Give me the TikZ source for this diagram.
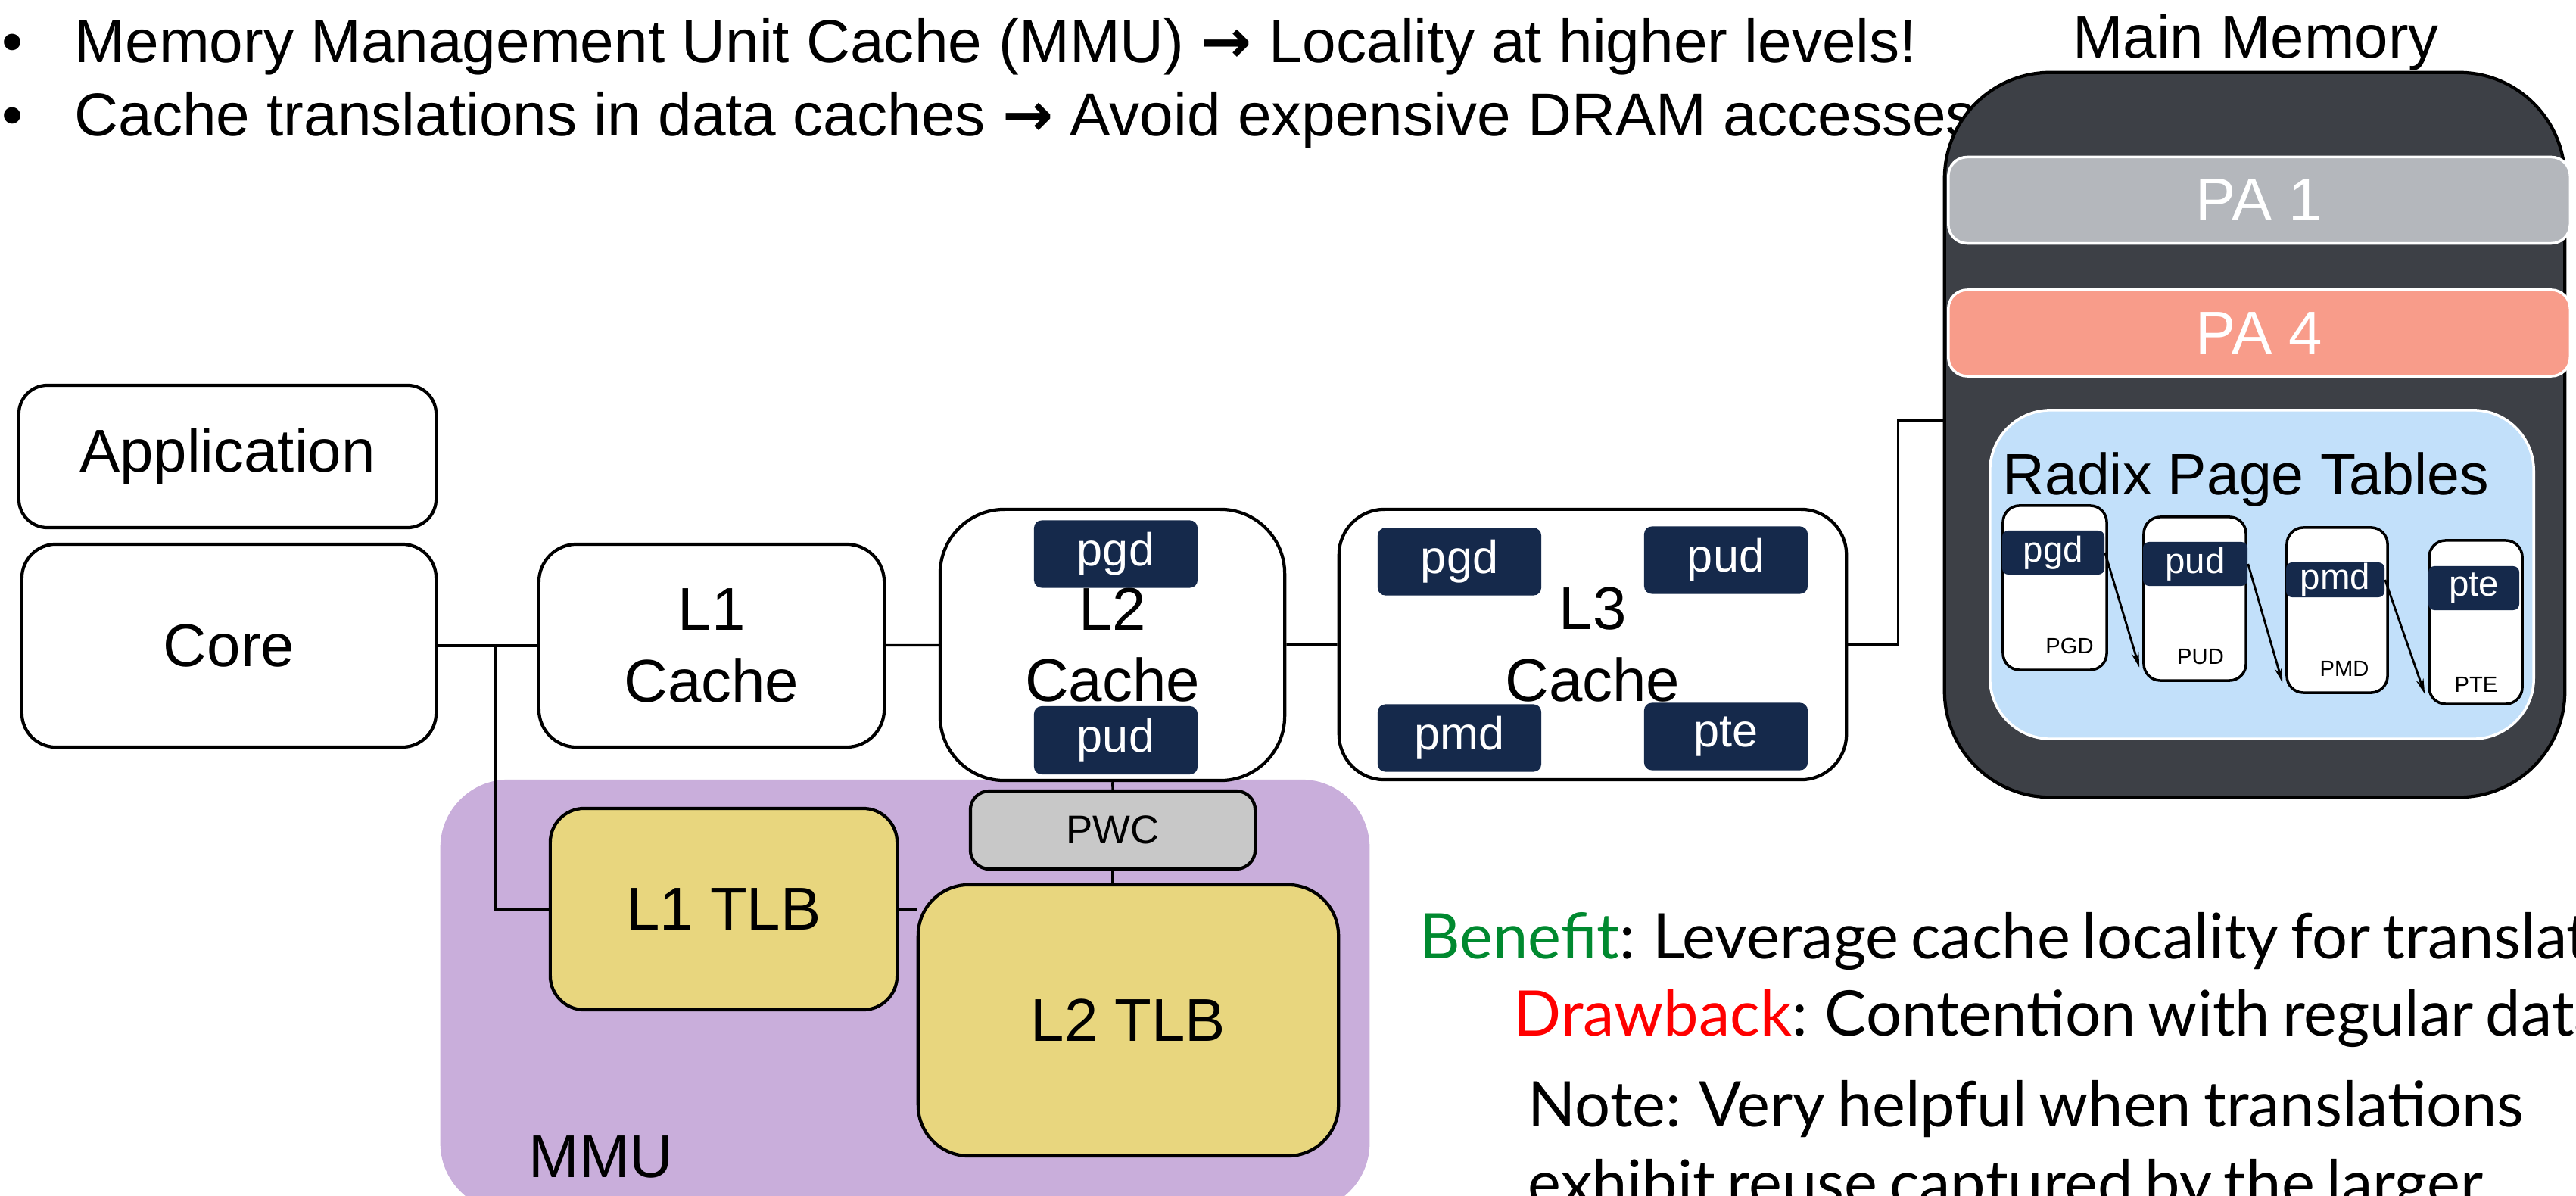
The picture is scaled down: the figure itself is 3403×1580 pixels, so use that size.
\documentclass[tikz,border=0pt]{standalone}
\usepackage{fontspec}
\setmainfont{Liberation Sans}
\newfontfamily\gillfont[WordSpace=0.75]{Lato}
\newfontfamily\arrowfont{DejaVu Sans}
\usetikzlibrary{arrows.meta}
\definecolor{memgray}{HTML}{3D4046}
\definecolor{pagray}{HTML}{B4B7BC}
\definecolor{pasalmon}{HTML}{F89C8A}
\definecolor{radixblue}{HTML}{C2E0FA}
\definecolor{tagnavy}{HTML}{15294B}
\definecolor{mmulilac}{HTML}{C9AEDB}
\definecolor{tlbyellow}{HTML}{E8D67E}
\definecolor{pwcgray}{HTML}{C8C8C8}
\definecolor{benefitgreen}{HTML}{00892F}
\tikzset{
  big/.style={font=\fontsize{22.7}{26.8}\selectfont},
  unitbox/.style={draw, line width=1.2pt, fill=white, inner sep=0pt, align=center, big},
  tag/.style={fill=tagnavy, text=white, rounded corners=0.1cm, inner sep=0pt, font=\fontsize{17.4}{20}\selectfont},
  smalltag/.style={tag, rounded corners=0.08cm, font=\fontsize{13.5}{15}\selectfont},
  table/.style={draw, line width=1pt, fill=white, rounded corners=0.22cm, inner sep=0pt},
  pabar/.style={draw=white, line width=1pt, rounded corners=0.25cm, inner sep=0pt, text=white, big,
    minimum width=8.21cm, minimum height=1.14cm},
  wire/.style={line width=0.9pt},
  walk/.style={line width=0.8pt, -{Stealth[length=0.2cm, width=0.1cm]}},
  txt/.style={inner sep=0pt, anchor=base west},
  bullet/.style={txt, font=\fontsize{22.8}{27}\selectfont},
  note/.style={txt, font=\gillfont\fontsize{23.6}{28}\selectfont}
}
\begin{document}
\begin{tikzpicture}[x=0.01cm, y=-0.01cm]
  \useasboundingbox (0,0) rectangle (3403,1580);
  \clip (0,0) rectangle (3403,1580);

  \node[bullet] (bul1) at (2,83) {•};
  \node[bullet] (line1) at (98,83)
    {Memory Management Unit Cache (MMU) {\arrowfont\bfseries →} Locality at higher levels!};
  \node[bullet] (bul2) at (2,180) {•};
  \node[bullet] (line2) at (98,180)
    {Cache translations in data caches {\arrowfont\bfseries →} Avoid expensive DRAM accesses};

  \node[fill=mmulilac, rounded corners=0.9cm, inner sep=0pt,
    minimum width=12.27cm, minimum height=5.7cm] (mmu) at (1195.5,1315) {};
  \node[txt, big] (mmulabel) at (698,1555) {MMU};

  \node[unitbox, rounded corners=0.38cm, minimum width=5.51cm, minimum height=1.88cm] (app) at (300.5,603) {Application};
  \node[unitbox, rounded corners=0.45cm, minimum width=5.47cm, minimum height=2.68cm] (core) at (302.5,853) {Core};
  \node[unitbox, rounded corners=0.5cm, minimum width=4.56cm, minimum height=2.68cm] (l1) at (940,853) {L1\\Cache};
  \node[unitbox, rounded corners=0.85cm, minimum width=4.55cm, minimum height=3.58cm] (l2) at (1469.5,852) {L2\\Cache};
  \node[unitbox, rounded corners=0.6cm, minimum width=6.70cm, minimum height=3.57cm] (l3) at (2104,851.5) {L3\\Cache};

  \node[tag, minimum width=2.16cm, minimum height=0.89cm] (l2pgd) at (1474,732) {pgd};
  \node[tag, minimum width=2.16cm, minimum height=0.90cm] (l2pud) at (1474,978) {pud};
  \node[tag, minimum width=2.16cm, minimum height=0.89cm] (l3pgd) at (1928,742) {pgd};
  \node[tag, minimum width=2.16cm, minimum height=0.89cm] (l3pud) at (2280,740) {pud};
  \node[tag, minimum width=2.16cm, minimum height=0.89cm] (l3pmd) at (1928,975) {pmd};
  \node[tag, minimum width=2.16cm, minimum height=0.89cm] (l3pte) at (2280,973) {pte};

  \node[unitbox, fill=pwcgray, rounded corners=0.25cm, minimum width=3.76cm, minimum height=1.03cm,
    font=\fontsize{15}{18}\selectfont] (pwc) at (1470,1096.5) {PWC};
  \node[unitbox, fill=tlbyellow, rounded corners=0.45cm, minimum width=4.58cm, minimum height=2.66cm] (l1tlb) at (956,1201) {L1 TLB};
  \node[unitbox, fill=tlbyellow, rounded corners=0.67cm, minimum width=5.55cm, minimum height=3.58cm] (l2tlb) at (1490.5,1348) {L2 TLB};

  \coordinate (split) at (654,851);
  \draw[wire] (core) -- (l1);
  \draw[wire] (l1) -- (l2);
  \draw[wire] (l2) -- (l3);
  \draw[wire] (split) |- (l1tlb.west);
  \draw[wire] (l1tlb.east) -- (l1tlb.east -| l2tlb.west);
  \draw[wire] (l2.south) -- (pwc.north);
  \draw[wire] (pwc.south) -- (pwc.south |- l2tlb.north);

  \node[txt, big, anchor=base] (memlabel) at (2980,77) {Main Memory};
  \node[draw, line width=1.2pt, fill=memgray, rounded corners=1.4cm, inner sep=0pt,
    minimum width=8.19cm, minimum height=9.57cm] (mem) at (2978.5,574.5) {};
  \coordinate (memport) at (2569,555);
  \draw[wire] (l3.east) -- ++(66,0) |- (memport);

  \node[pabar, fill=pagray] (pa1) at (2984.5,264.5) {PA 1};
  \node[pabar, fill=pasalmon] (pa4) at (2984.5,440) {PA 4};

  \node[draw=white, line width=1pt, fill=radixblue, rounded corners=0.8cm, inner sep=0pt,
    minimum width=7.18cm, minimum height=4.34cm] (radix) at (2988,759) {};
  \node[txt, font=\fontsize{21.9}{25}\selectfont] (radixlabel) at (2645,654) {Radix Page Tables};

  \node[table, minimum width=1.37cm, minimum height=2.17cm] (pgdtab) at (2714.5,776.5) {};
  \node[table, minimum width=1.35cm, minimum height=2.16cm] (pudtab) at (2899.5,791) {};
  \node[table, minimum width=1.33cm, minimum height=2.18cm] (pmdtab) at (3087.5,806) {};
  \node[table, minimum width=1.23cm, minimum height=2.16cm] (ptetab) at (3270.5,822) {};

  \node[smalltag, minimum width=1.35cm, minimum height=0.58cm] (pgdbar) at (2712.5,730) {pgd};
  \node[smalltag, minimum width=1.38cm, minimum height=0.58cm] (pudbar) at (2900,745) {pud};
  \node[smalltag, minimum width=1.30cm, minimum height=0.46cm] (pmdbar) at (3085,766) {pmd};
  \node[smalltag, minimum width=1.20cm, minimum height=0.58cm] (ptebar) at (3268,777) {pte};

  \node[txt, anchor=base, font=\fontsize{8.3}{10}\selectfont] (pgdname) at (2734,864) {PGD};
  \node[txt, anchor=base, font=\fontsize{8.3}{10}\selectfont] (pudname) at (2907,878) {PUD};
  \node[txt, anchor=base, font=\fontsize{8.3}{10}\selectfont] (pmdname) at (3097,894) {PMD};
  \node[txt, anchor=base, font=\fontsize{8.3}{10}\selectfont] (ptename) at (3271,915) {PTE};

  \draw[walk] (pgdbar.east) -- ([xshift=-0.04cm, yshift=0.19cm]pudtab.south west);
  \draw[walk] (pudbar.east) -- ([xshift=-0.04cm, yshift=0.15cm]pmdtab.south west);
  \draw[walk] (pmdbar.east) -- ([xshift=-0.04cm, yshift=0.15cm]ptetab.south west);

  \node[note] (benefit) at (1875,1267)
    {\textcolor{benefitgreen}{Benefit}: Leverage cache locality for translations};
  \node[note] (drawback) at (1999,1368)
    {\textcolor{red}{Drawback}: Contention with regular data};
  \node[note] (note1) at (2018,1488)
    {Note: Very helpful when translations};
  \node[note] (note2) at (2018,1592)
    {exhibit reuse captured by the larger};
\end{tikzpicture}
\end{document}
